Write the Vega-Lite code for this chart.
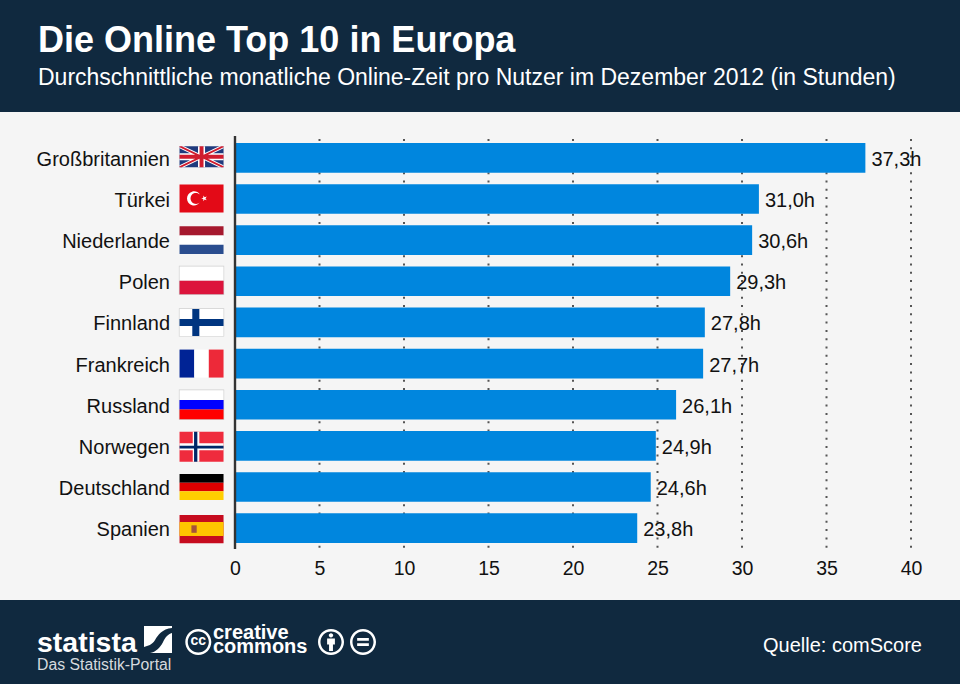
{
"$schema":"https://vega.github.io/schema/vega-lite/v6.json",
"width":960,"height":488,
"autosize":{"type":"none"},
"padding":{"left":0,"top":112,"right":0,"bottom":84},
"background":"#10293f",
"config":{"view":{"fill":"#f5f5f5","stroke":null},"font":"Liberation Sans"},
"title":{"text":"Die Online Top 10 in Europa","subtitle":"Durchschnittliche monatliche Online-Zeit pro Nutzer im Dezember 2012 (in Stunden)","anchor":"start","frame":"group","dx":38,"offset":21,"color":"#ffffff","fontSize":36,"fontWeight":"bold","font":"Liberation Sans","subtitleColor":"#ffffff","subtitleFontSize":23,"subtitleFont":"Liberation Sans","subtitlePadding":7},
"datasets":{
"werte":[
{"land":"Großbritannien","stunden":37.3,"label":"37,3h"},
{"land":"Türkei","stunden":31.0,"label":"31,0h"},
{"land":"Niederlande","stunden":30.6,"label":"30,6h"},
{"land":"Polen","stunden":29.3,"label":"29,3h"},
{"land":"Finnland","stunden":27.8,"label":"27,8h"},
{"land":"Frankreich","stunden":27.7,"label":"27,7h"},
{"land":"Russland","stunden":26.1,"label":"26,1h"},
{"land":"Norwegen","stunden":24.9,"label":"24,9h"},
{"land":"Deutschland","stunden":24.6,"label":"24,6h"},
{"land":"Spanien","stunden":23.8,"label":"23,8h"}
],
"flaggen":[
{"land":"Großbritannien","teil":"uk-blau"},{"land":"Großbritannien","teil":"uk-weiss"},{"land":"Großbritannien","teil":"uk-rot"},
{"land":"Türkei","teil":"tr-rot"},{"land":"Türkei","teil":"tr-mond"},
{"land":"Niederlande","teil":"nl-rot"},{"land":"Niederlande","teil":"nl-weiss"},{"land":"Niederlande","teil":"nl-blau"},
{"land":"Polen","teil":"pl-rahmen"},{"land":"Polen","teil":"pl-weiss"},{"land":"Polen","teil":"pl-rot"},
{"land":"Finnland","teil":"fi-rahmen"},{"land":"Finnland","teil":"fi-weiss"},{"land":"Finnland","teil":"fi-blau"},
{"land":"Frankreich","teil":"fr-blau"},{"land":"Frankreich","teil":"fr-weiss"},{"land":"Frankreich","teil":"fr-rot"},
{"land":"Russland","teil":"ru-rahmen"},{"land":"Russland","teil":"ru-weiss"},{"land":"Russland","teil":"ru-blau"},{"land":"Russland","teil":"ru-rot"},
{"land":"Norwegen","teil":"no-rot"},{"land":"Norwegen","teil":"no-weiss"},{"land":"Norwegen","teil":"no-blau"},
{"land":"Deutschland","teil":"de-schwarz"},{"land":"Deutschland","teil":"de-rot"},{"land":"Deutschland","teil":"de-gold"},
{"land":"Spanien","teil":"es-rot"},{"land":"Spanien","teil":"es-gelb"},{"land":"Spanien","teil":"es-wappen"}
]
},
"resolve":{"scale":{"x":"independent","y":"independent"},"axis":{"x":"independent","y":"independent"}},
"layer":[
{"data":{"values":[{"stunde":5},{"stunde":10},{"stunde":15},{"stunde":20},{"stunde":25},{"stunde":30},{"stunde":35},{"stunde":40}]},
 "mark":{"type":"rule","color":"#555555","strokeWidth":2,"strokeDash":[2,6.3]},
 "encoding":{
  "x":{"field":"stunde","type":"quantitative","scale":{"domain":[-13.905,42.899],"nice":false,"zero":false},"axis":null},
  "y":{"datum":139,"type":"quantitative","scale":{"domain":[112,600],"reverse":true,"nice":false,"zero":false},"axis":null},
  "y2":{"datum":549}
 }},
{"layer":[
 {"data":{"name":"werte"},
  "mark":{"type":"bar","color":"#0086de"},
  "encoding":{
   "x":{"field":"stunden","type":"quantitative","scale":{"domain":[-13.905,42.899],"nice":false,"zero":false},
    "axis":{"values":[0,5,10,15,20,25,30,35,40],"domain":false,"ticks":false,"grid":false,"title":null,"labelFontSize":19.5,"labelColor":"#111111","labelPadding":0,"offset":-41,"labelFlush":false,"labelOverlap":false,"labelFont":"Liberation Sans"}},
   "y":{"field":"land","type":"nominal","sort":null,"scale":{"domain":["Großbritannien","Türkei","Niederlande","Polen","Finnland","Frankreich","Russland","Norwegen","Deutschland","Spanien"],"range":[31,431],"paddingInner":0.28,"paddingOuter":0},"axis":null}
  }},
 {"data":{"name":"werte"},
  "mark":{"type":"text","align":"left","baseline":"middle","dx":6,"dy":2,"fontSize":20,"color":"#111111","font":"Liberation Sans"},
  "encoding":{"x":{"field":"stunden","type":"quantitative"},"y":{"field":"land","type":"nominal","sort":null},"text":{"field":"label"}}},
 {"data":{"name":"werte"},
  "mark":{"type":"text","align":"right","baseline":"middle","dy":2,"fontSize":20,"color":"#111111","font":"Liberation Sans"},
  "encoding":{"x":{"datum":-3.846,"type":"quantitative"},"y":{"field":"land","type":"nominal","sort":null},"text":{"field":"land"}}},
 {"data":{"name":"flaggen"},
  "mark":{"type":"point","filled":true,"opacity":1,"size":1936,"strokeWidth":0},
  "encoding":{
   "x":{"datum":-1.98,"type":"quantitative"},
   "y":{"field":"land","type":"nominal","sort":null},
   "color":{"field":"teil","type":"nominal","legend":null,"scale":{
    "domain":["uk-blau","uk-weiss","uk-rot","tr-rot","tr-mond","nl-rot","nl-weiss","nl-blau","pl-rahmen","pl-weiss","pl-rot","fi-rahmen","fi-weiss","fi-blau","fr-blau","fr-weiss","fr-rot","ru-rahmen","ru-weiss","ru-blau","ru-rot","no-rot","no-weiss","no-blau","de-schwarz","de-rot","de-gold","es-rot","es-gelb","es-wappen"],
    "range":["#1f3a7d","#ffffff","#d01c2e","#e30a17","#ffffff","#a6192e","#ffffff","#2a4d8f","#cfcfcf","#ffffff","#dc143c","#cfcfcf","#ffffff","#003580","#002395","#ffffff","#ed2939","#cfcfcf","#ffffff","#0000ff","#ff0000","#ef2b3d","#ffffff","#002868","#000000","#dd0000","#ffce00","#c60b1e","#ffc400","#a5533a"]}},
   "shape":{"field":"teil","type":"nominal","legend":null,"scale":{
    "domain":["uk-blau","uk-weiss","uk-rot","tr-rot","tr-mond","nl-rot","nl-weiss","nl-blau","pl-rahmen","pl-weiss","pl-rot","fi-rahmen","fi-weiss","fi-blau","fr-blau","fr-weiss","fr-rot","ru-rahmen","ru-weiss","ru-blau","ru-rot","no-rot","no-weiss","no-blau","de-schwarz","de-rot","de-gold","es-rot","es-gelb","es-wappen"],
    "range":[
    "M-1 -.52H1V.43H-1Z",
    "M-1 -.52L-.8 -.52L1 .34L1 .43L.8 .43L-1 -.43ZM1 -.43L-.8 .43L-1 .43L-1 .34L.8 -.52L1 -.52ZM-1 -.205H1V.115H-1ZM-.16 -.52H.16V.43H-.16Z",
    "M-1 -.52L-.9 -.52L1 .385L1 .43L.9 .43L-1 -.475ZM1 -.475L-.9 .43L-1 .43L-1 .385L.9 -.52L1 -.52ZM-1 -.135H1V.045H-1ZM-.09 -.52H.09V.43H-.09Z",
    "M-1 -.66H1V.61H-1Z",
    "M-.073 -.202A.32 .32 0 1 0 -.073 .15A.25 .25 0 1 1 -.073 -.202ZM-.015 -.026L.08 -.058L.082 -.159L.142 -.078L.238 -.108L.18 -.026L.238 .056L.142 .026L.082 .107L.08 .006Z",
    "M-1 -.636H1V-.212H-1Z",
    "M-1 -.212H1V.212H-1Z",
    "M-1 .212H1V.636H-1Z",
    "M-1.03 -.7H1.03V.62H-1.03Z",
    "M-1 -.67H1V-.02H-1Z",
    "M-1 -.02H1V.59H-1Z",
    "M-1.03 -.645H1.03V.645H-1.03Z",
    "M-1 -.614H1V.614H-1Z",
    "M-.42 -.614H-.1V-.16H1V.16H-.1V.614H-.42V.16H-1V-.16H-.42Z",
    "M-1 -.636H-.33V.636H-1Z",
    "M-.33 -.636H.33V.636H-.33Z",
    "M.33 -.636H1V.636H.33Z",
    "M-1.03 -.69H1.03V.69H-1.03Z",
    "M-1 -.66H1V-.22H-1Z",
    "M-1 -.22H1V.22H-1Z",
    "M-1 .22H1V.66H-1Z",
    "M-1 -.64H1V.72H-1Z",
    "M-.4 -.64H-.1V-.12H1V.2H-.1V.72H-.4V.2H-1V-.12H-.4Z",
    "M-.34 -.64H-.19V-.01H1V.12H-.19V.72H-.34V.12H-1V-.01H-.34Z",
    "M-1 -.59H1V-.197H-1Z",
    "M-1 -.197H1V.197H-1Z",
    "M-1 .197H1V.59H-1Z",
    "M-1 -.6H1V.68H-1Z",
    "M-1 -.28H1V.36H-1Z",
    "M-.46 -.13H-.22V.21H-.46Z"
    ]}}
  }}
 ]},
{"data":{"values":[{"achse":0}]},
 "mark":{"type":"rule","color":"#333333","strokeWidth":2.4},
 "encoding":{
  "x":{"field":"achse","type":"quantitative","scale":{"domain":[-13.905,42.899],"nice":false,"zero":false},"axis":null},
  "y":{"datum":136,"type":"quantitative","scale":{"domain":[112,600],"reverse":true,"nice":false,"zero":false},"axis":null},
  "y2":{"datum":549}
 }},
{"layer":[
 {"data":{"values":[{"t":"statista"}]},
  "mark":{"type":"text","align":"left","baseline":"alphabetic","fontWeight":"bold","fontSize":28.5,"color":"#ffffff"},
  "encoding":{"x":{"datum":37,"type":"quantitative","scale":{"domain":[0,960],"nice":false,"zero":false},"axis":null},"y":{"datum":652,"type":"quantitative","scale":{"domain":[112,600],"reverse":true,"nice":false,"zero":false},"axis":null},"text":{"field":"t"}}},
 {"data":{"values":[{"t":"Das Statistik-Portal"}]},
  "mark":{"type":"text","align":"left","baseline":"alphabetic","fontSize":15.8,"color":"#d6dade"},
  "encoding":{"x":{"datum":37,"type":"quantitative"},"y":{"datum":670,"type":"quantitative"},"text":{"field":"t"}}},
 {"data":{"values":[{"t":"creative"}]},
  "mark":{"type":"text","align":"left","baseline":"alphabetic","fontWeight":"bold","fontSize":20,"color":"#ffffff"},
  "encoding":{"x":{"datum":213,"type":"quantitative"},"y":{"datum":639,"type":"quantitative"},"text":{"field":"t"}}},
 {"data":{"values":[{"t":"commons"}]},
  "mark":{"type":"text","align":"left","baseline":"alphabetic","fontWeight":"bold","fontSize":20,"color":"#ffffff"},
  "encoding":{"x":{"datum":213,"type":"quantitative"},"y":{"datum":653,"type":"quantitative"},"text":{"field":"t"}}},
 {"data":{"values":[{"t":"cc"}]},
  "mark":{"type":"text","align":"center","baseline":"middle","fontWeight":"bold","fontSize":14,"color":"#ffffff"},
  "encoding":{"x":{"datum":198.3,"type":"quantitative"},"y":{"datum":641,"type":"quantitative"},"text":{"field":"t"}}},
 {"data":{"values":[{"t":"Quelle: comScore"}]},
  "mark":{"type":"text","align":"right","baseline":"alphabetic","fontSize":20,"color":"#ffffff"},
  "encoding":{"x":{"datum":922,"type":"quantitative"},"y":{"datum":652,"type":"quantitative"},"text":{"field":"t"}}},
 {"data":{"values":[{"logo":"statista"}]},
  "mark":{"type":"point","filled":true,"opacity":1,"strokeWidth":0,"color":"#ffffff","size":784,"shape":"M-1 -.96H1V-.82C.29 -.75 0 -.32 -.21 .04C-.43 .39 -.71 .46 -1 .54ZM1 -.46V.96H-.57C-.14 .89 .14 .61 .36 .18C.5 -.11 .71 -.39 1 -.46Z"},
  "encoding":{"x":{"datum":158,"type":"quantitative"},"y":{"datum":639.5,"type":"quantitative"}}},
 {"data":{"values":[{"logo":"cc"}]},
  "mark":{"type":"point","filled":true,"opacity":1,"strokeWidth":0,"color":"#ffffff","size":676,"shape":"M0 -1A1 1 0 1 1 0 1A1 1 0 1 1 0 -1ZM0 -.81A.81 .81 0 1 0 0 .81A.81 .81 0 1 0 0 -.81Z"},
  "encoding":{"x":{"datum":198.3,"type":"quantitative"},"y":{"datum":642,"type":"quantitative"}}},
 {"data":{"values":[{"logo":"by"}]},
  "mark":{"type":"point","filled":true,"opacity":1,"strokeWidth":0,"color":"#ffffff","size":676,"shape":"M0 -1A1 1 0 1 1 0 1A1 1 0 1 1 0 -1ZM0 -.81A.81 .81 0 1 0 0 .81A.81 .81 0 1 0 0 -.81ZM0 -.68A.17 .17 0 1 1 0 -.34A.17 .17 0 1 1 0 -.68ZM-.3 -.27H.3V.2H.15V.7H-.15V.2H-.3Z"},
  "encoding":{"x":{"datum":331,"type":"quantitative"},"y":{"datum":642,"type":"quantitative"}}},
 {"data":{"values":[{"logo":"nd"}]},
  "mark":{"type":"point","filled":true,"opacity":1,"strokeWidth":0,"color":"#ffffff","size":676,"shape":"M0 -1A1 1 0 1 1 0 1A1 1 0 1 1 0 -1ZM0 -.81A.81 .81 0 1 0 0 .81A.81 .81 0 1 0 0 -.81ZM-.45 -.3H.45V-.1H-.45ZM-.45 .1H.45V.3H-.45Z"},
  "encoding":{"x":{"datum":363,"type":"quantitative"},"y":{"datum":642,"type":"quantitative"}}}
 ]}
]
}
